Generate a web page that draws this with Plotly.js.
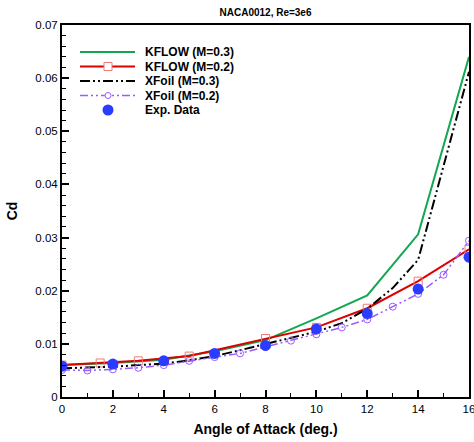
<!DOCTYPE html>
<html>
<head>
<meta charset="utf-8">
<script src="https://cdn.plot.ly/plotly-3.0.1.min.js"></script>
<style>html,body{margin:0;padding:0;background:#fff;}#chart{width:474px;height:442px;}</style>
</head>
<body>
<div id="chart"></div>
<script>
// ---- data ----
var kflow03_x = [0, 2, 4, 6, 8, 10, 12, 14, 16];
var kflow03_cd = [0.0060, 0.0064, 0.0070, 0.0086, 0.0107, 0.0148, 0.0191, 0.0306, 0.0640];

var kflow02_x = [0, 1.5, 3, 5, 8, 10, 12, 14, 16];
var kflow02_cd = [0.0060, 0.0064, 0.0068, 0.0077, 0.0110, 0.0131, 0.0167, 0.0218, 0.0278];

var xfoil03_x = [0, 1, 2, 3, 4, 5, 6, 7, 8, 9, 10, 11, 12, 13, 14, 16];
var xfoil03_cd = [0.0054, 0.0055, 0.0057, 0.0060, 0.0063, 0.0069, 0.0077, 0.0088, 0.0100, 0.0111, 0.0123, 0.0139, 0.0166, 0.0205, 0.0258, 0.0612];

var xfoil02_x = [0, 1, 2, 3, 4, 5, 6, 7, 8, 9, 10, 11, 12, 13, 14, 15, 16];
var xfoil02_cd = [0.0051, 0.0050, 0.0052, 0.0055, 0.0060, 0.0068, 0.0075, 0.0082, 0.0094, 0.0106, 0.0118, 0.0131, 0.0146, 0.0170, 0.0194, 0.0230, 0.0294];

var exp_x = [0, 2, 4, 6, 8, 10, 12, 14, 16];
var exp_cd = [0.0058, 0.0062, 0.0068, 0.0082, 0.0097, 0.0128, 0.0157, 0.0203, 0.0263];

var seriesNames = ["KFLOW (M=0.3)", "KFLOW (M=0.2)", "XFoil (M=0.3)", "XFoil (M=0.2)", "Exp. Data"];
var titleText = "NACA0012, Re=3e6";
var xTitle = "Angle of Attack (deg.)";
var yTitle = "Cd";

// ---- styles ----
var GREEN = "#14a650", RED = "#dd0000", PINK = "#f07878", PURPLE = "#9a5cff", BLUE = "#2a3cff";
var DASH_BLACK = "10px,3px,2px,3px,2px,3px";
var DASH_PURPLE = "8px,3px,2px,3px,2px,3px";
var FONT = "Liberation Sans, Arial, sans-serif";

var traces = [
  {x: kflow03_x, y: kflow03_cd, mode: "lines", name: seriesNames[0],
   line: {color: GREEN, width: 2}},
  {x: kflow02_x, y: kflow02_cd, mode: "lines+markers", name: seriesNames[1],
   line: {color: RED, width: 2},
   marker: {symbol: "square-open", size: 8, color: PINK, line: {width: 1, color: PINK}}},
  {x: xfoil03_x, y: xfoil03_cd, mode: "lines", name: seriesNames[2],
   line: {color: "#000000", width: 2, dash: DASH_BLACK}},
  {x: xfoil02_x, y: xfoil02_cd, mode: "lines+markers", name: seriesNames[3],
   line: {color: PURPLE, width: 1.5, dash: DASH_PURPLE},
   marker: {symbol: "circle-open", size: 7, color: PURPLE, line: {width: 1, color: PURPLE}}},
  {x: exp_x, y: exp_cd, mode: "markers", name: seriesNames[4],
   marker: {symbol: "circle", size: 11, color: BLUE}}
];

// ---- custom legend (paper coordinates) ----
var L = 62, R = 469, T = 25, B = 397;
function px(x){ return (x - L) / (R - L); }
function py(y){ return (B - y) / (B - T); }
var rowsY = [52, 66.5, 81, 95.5, 110];
var lx0 = px(80), lx1 = px(135), mx = px(108), tx = px(143);
var shapes = [], annotations = [];
var legendStyles = [
  {color: GREEN, width: 2, dash: "solid"},
  {color: RED, width: 2, dash: "solid"},
  {color: "#000000", width: 2, dash: DASH_BLACK},
  {color: PURPLE, width: 1.5, dash: DASH_PURPLE},
  null
];
for (var i = 0; i < seriesNames.length; i++) {
  var yy = py(rowsY[i]);
  if (legendStyles[i]) {
    shapes.push({type: "line", xref: "paper", yref: "paper", x0: lx0, x1: lx1, y0: yy, y1: yy,
                 line: legendStyles[i]});
  }
  annotations.push({xref: "paper", yref: "paper", x: tx, y: yy, xanchor: "left", yanchor: "middle",
                    showarrow: false, text: seriesNames[i],
                    font: {family: FONT, size: 12, weight: "bold", color: "#000"}});
}
var hx = 4 / (R - L), hy = 4 / (B - T);
shapes.push({type: "rect", xref: "paper", yref: "paper", x0: mx - hx, x1: mx + hx,
             y0: py(rowsY[1]) - hy, y1: py(rowsY[1]) + hy, line: {color: PINK, width: 1}, fillcolor: "#fff"});
var cx = 3 / (R - L), cy = 3 / (B - T);
shapes.push({type: "circle", xref: "paper", yref: "paper", x0: mx - cx, x1: mx + cx,
             y0: py(rowsY[3]) - cy, y1: py(rowsY[3]) + cy, line: {color: PURPLE, width: 1}, fillcolor: "#fff"});
var bx = 5.5 / (R - L), by = 5.5 / (B - T);
shapes.push({type: "circle", xref: "paper", yref: "paper", x0: mx - bx, x1: mx + bx,
             y0: py(rowsY[4]) - by, y1: py(rowsY[4]) + by, line: {color: BLUE, width: 0}, fillcolor: BLUE});

var layout = {
  width: 474, height: 442,
  margin: {l: L, r: 474 - R, t: T, b: 442 - B, pad: 0},
  paper_bgcolor: "#fff", plot_bgcolor: "#fff",
  showlegend: false,
  font: {family: FONT, size: 12, color: "#000"},
  title: {text: titleText, font: {family: FONT, size: 10, weight: "bold", color: "#000"},
          xref: "paper", x: 0.5, xanchor: "center", yref: "container", y: 1 - 12 / 442, yanchor: "middle"},
  xaxis: {
    range: [0, 16], dtick: 2, tick0: 0,
    showgrid: false, zeroline: false,
    showline: true, linewidth: 2, linecolor: "#000", mirror: true,
    ticks: "inside", ticklen: 7, tickwidth: 2, tickcolor: "#000",
    minor: {dtick: 1, ticks: "inside", ticklen: 4, tickwidth: 1, tickcolor: "#000", showgrid: false},
    tickfont: {family: FONT, size: 11.5, color: "#000"},
    ticklabeloverflow: "allow",
    title: {text: xTitle, font: {family: FONT, size: 14, weight: "bold", color: "#000"}, standoff: 10}
  },
  yaxis: {
    range: [0, 0.07], dtick: 0.01, tick0: 0,
    showgrid: false, zeroline: false,
    showline: true, linewidth: 2, linecolor: "#000", mirror: true,
    ticks: "inside", ticklen: 7, tickwidth: 2, tickcolor: "#000",
    minor: {dtick: 0.002, ticks: "inside", ticklen: 4, tickwidth: 1, tickcolor: "#000", showgrid: false},
    tickfont: {family: FONT, size: 11.5, color: "#000"},
    title: {text: yTitle, font: {family: FONT, size: 14, weight: "bold", color: "#000"}, standoff: 14}
  },
  shapes: shapes,
  annotations: annotations
};

Plotly.newPlot("chart", traces, layout, {staticPlot: true, displayModeBar: false});
</script>
</body>
</html>
